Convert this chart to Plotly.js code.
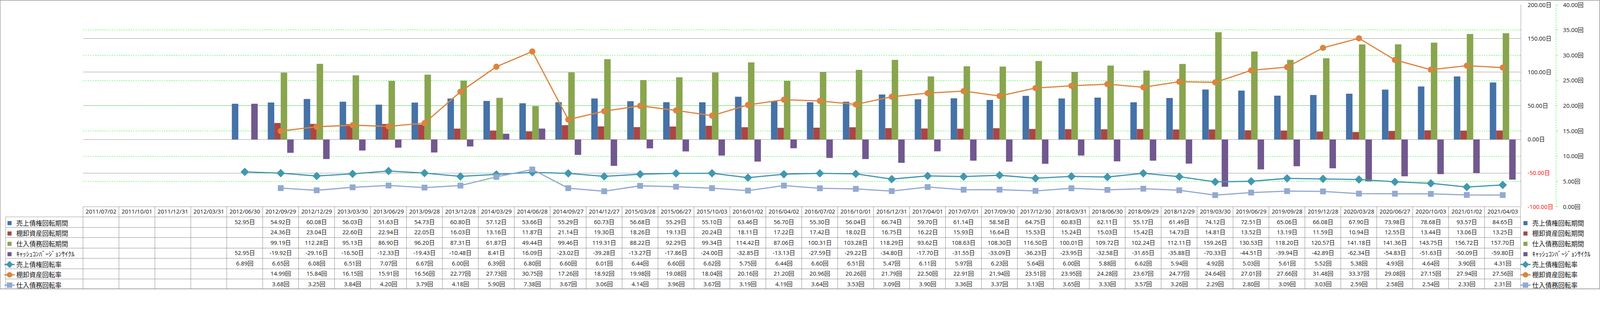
<!DOCTYPE html>
<html><head><meta charset="utf-8">
<script src="https://cdn.plot.ly/plotly-3.0.1.min.js"></script>
<style>html,body{margin:0;padding:0;background:#fff;overflow:hidden;}#chart{width:4701px;height:858px;transform-origin:0 0;}</style>
</head><body><div id="chart"></div>
<script>
const dates = ['2011/07/02','2011/10/01','2011/12/31','2012/03/31','2012/06/30','2012/09/29','2012/12/29','2013/03/30','2013/06/29','2013/09/28','2013/12/28','2014/03/29','2014/06/28','2014/09/27','2014/12/27','2015/03/28','2015/06/27','2015/10/03','2016/01/02','2016/04/02','2016/07/02','2016/10/01','2016/12/31','2017/04/01','2017/07/01','2017/09/30','2017/12/30','2018/03/31','2018/06/30','2018/09/29','2018/12/29','2019/03/30','2019/06/29','2019/09/28','2019/12/28','2020/03/28','2020/06/27','2020/10/03','2021/01/02','2021/04/03'];

const receivableDays = [null,null,null,null,52.95,54.92,60.08,56.03,51.63,54.73,60.80,57.12,53.66,55.29,60.73,56.68,55.29,55.10,63.46,56.70,55.30,56.04,66.74,59.70,61.14,58.58,64.75,60.83,62.11,55.17,61.49,74.12,72.51,65.06,66.08,67.90,73.98,78.68,93.57,84.65];
const inventoryDays = [null,null,null,null,null,24.36,23.04,22.60,22.94,22.05,16.03,13.16,11.87,21.14,19.30,18.26,19.13,20.24,18.11,17.22,17.42,18.02,16.75,16.22,15.93,16.64,15.53,15.24,15.03,15.42,14.73,14.81,13.52,13.19,11.59,10.94,12.55,13.44,13.06,13.25];
const payableDays = [null,null,null,null,null,99.19,112.28,95.13,86.90,96.20,87.31,61.87,49.44,99.46,119.31,88.22,92.29,99.34,114.42,87.06,100.31,103.28,118.29,93.62,108.63,108.30,116.50,100.01,109.72,102.24,112.11,159.26,130.53,118.20,120.57,141.18,141.36,143.75,156.72,157.70];
const cashCycle = [null,null,null,null,52.95,-19.92,-29.16,-16.50,-12.33,-19.43,-10.48,8.41,16.09,-23.02,-39.28,-13.27,-17.86,-24.00,-32.85,-13.13,-27.59,-29.22,-34.80,-17.70,-31.55,-33.09,-36.23,-23.95,-32.58,-31.65,-35.88,-70.33,-44.51,-39.94,-42.89,-62.34,-54.83,-51.63,-50.09,-59.80];
const receivableTurn = [null,null,null,null,6.89,6.65,6.08,6.51,7.07,6.67,6.00,6.39,6.80,6.60,6.01,6.44,6.60,6.62,5.75,6.44,6.60,6.51,5.47,6.11,5.97,6.23,5.64,6.00,5.88,6.62,5.94,4.92,5.03,5.61,5.52,5.38,4.93,4.64,3.90,4.31];
const inventoryTurn = [null,null,null,null,null,14.99,15.84,16.15,15.91,16.56,22.77,27.73,30.75,17.26,18.92,19.98,19.08,18.04,20.16,21.20,20.96,20.26,21.79,22.50,22.91,21.94,23.51,23.95,24.28,23.67,24.77,24.64,27.01,27.66,31.48,33.37,29.08,27.15,27.94,27.56];
const payableTurn = [null,null,null,null,null,3.68,3.25,3.84,4.20,3.79,4.18,5.90,7.38,3.67,3.06,4.14,3.96,3.67,3.19,4.19,3.64,3.53,3.09,3.90,3.36,3.37,3.13,3.65,3.33,3.57,3.26,2.29,2.80,3.09,3.03,2.59,2.58,2.54,2.33,2.31];

const seriesNames = ['売上債権回転期間','棚卸資産回転期間','仕入債務回転期間','ｷｬｯｼｭｺﾝﾊﾞｰｼﾞｮﾝｻｲｸﾙ','売上債権回転率','棚卸資産回転率','仕入債務回転率'];
const leftTicks = [-100,-50,0,50,100,150,200];
const rightTicks = [0,5,10,15,20,25,30,35,40];

const W = 4701, H = 858;
const px = x => x / W;
const py = y => 1 - y / H;

const colors = ['#4572A7','#AA4643','#89A54E','#71588F','#4198AF','#DB843D','#93A9CF'];
const dayData = [receivableDays, inventoryDays, payableDays, cashCycle];
const rateData = [receivableTurn, inventoryTurn, payableTurn];
const symbols = ['diamond','circle','square'];
const msize = [19,18,17];

const traces = [];
// real traces (right legend) and legend-only copies (left legend inside the table's first column)
function addSet(legendName, real) {
  dayData.forEach((d, i) => {
    traces.push({
      type: 'bar', name: seriesNames[i],
      x: real ? dates : [dates[0]], y: real ? d : [-1000],
      xaxis: real ? 'x' : 'x2', yaxis: real ? 'y' : 'y3',
      marker: {color: colors[i]},
      legend: legendName, legendgroup: legendName + i, hoverinfo: 'skip'
    });
  });
  rateData.forEach((d, i) => {
    traces.push({
      type: 'scatter', mode: 'lines+markers', name: seriesNames[4 + i],
      x: real ? dates : [dates[0]], y: real ? d : [-1000],
      xaxis: real ? 'x' : 'x2', yaxis: real ? 'y2' : 'y3',
      line: {color: colors[4 + i], width: 3.5},
      marker: {symbol: symbols[i], size: msize[i], color: colors[4 + i]},
      legend: legendName, legendgroup: legendName + (4 + i), hoverinfo: 'skip'
    });
  });
}
addSet('legend', true);
addSet('legend2', false);

const fmt = (v, u) => (v === null || v === undefined) ? '' : v.toFixed(2) + u;
const tableCols = [seriesNames.map(() => '')];
dates.forEach((d, j) => {
  tableCols.push([
    fmt(receivableDays[j], '日'), fmt(inventoryDays[j], '日'), fmt(payableDays[j], '日'), fmt(cashCycle[j], '日'),
    fmt(receivableTurn[j], '回'), fmt(inventoryTurn[j], '回'), fmt(payableTurn[j], '回')
  ]);
});
const gridGray = '#8c8c8c';
traces.push({
  type: 'table',
  domain: {x: [px(17), px(4468)], y: [py(857), py(613.3)]},
  columnwidth: [227].concat(dates.map(() => 105.6)),
  header: {
    values: [''].concat(dates),
    height: 30,
    align: 'center',
    line: {color: ['rgba(0,0,0,0)'].concat(dates.map(() => gridGray)), width: 1},
    fill: {color: 'rgba(0,0,0,0)'},
    font: {family: 'Open Sans, Noto Sans CJK JP', size: 17, color: '#111'}
  },
  cells: {
    values: tableCols,
    height: 30.5,
    align: 'center',
    line: {color: gridGray, width: 1},
    fill: {color: 'rgba(0,0,0,0)'},
    font: {family: 'Open Sans, Noto Sans CJK JP', size: 17, color: '#111'}
  }
});

const legendFont = {family: 'Noto Sans CJK JP', size: 19, color: '#111'};
const layout = {
  width: W, height: H,
  margin: {l: 0, r: 0, t: 0, b: 0},
  paper_bgcolor: '#fff', plot_bgcolor: 'rgba(0,0,0,0)',
  barmode: 'group', bargap: 0.28, bargroupgap: 0,
  showlegend: true,
  font: {family: 'Open Sans, Noto Sans CJK JP', size: 17, color: '#111'},
  xaxis: {
    type: 'category', categoryorder: 'array', categoryarray: dates,
    domain: [px(244), px(4468)], range: [-0.5, dates.length - 0.5],
    showticklabels: false, showgrid: false, zeroline: false, showline: false, ticks: '', fixedrange: true
  },
  yaxis: {
    domain: [py(613.3), py(14.3)], range: [-100, 200], side: 'right',
    tickvals: leftTicks,
    ticktext: leftTicks.map(v => v < 0 ? '<span style="color:#ff0000">' + v.toFixed(2) + '日</span>' : v.toFixed(2) + '日'),
    showgrid: true, gridcolor: '#888888', gridwidth: 1,
    zeroline: true, zerolinecolor: '#888888', zerolinewidth: 1,
    showline: true, linecolor: '#888888', linewidth: 1,
    ticks: '', ticklabelstandoff: 16, automargin: false,
    tickfont: {family: 'Open Sans, Noto Sans CJK JP', size: 17, color: '#111'}
  },
  yaxis2: {
    overlaying: 'y', side: 'right', anchor: 'free', position: px(4572),
    range: [0, 40], tickvals: rightTicks, ticktext: rightTicks.map(v => v.toFixed(2) + '回'),
    showgrid: true, gridcolor: '#00ff00', gridwidth: 1, griddash: '4px,3px',
    zeroline: false, showline: false,
    ticks: 'outside', ticklen: 4, tickcolor: '#00ff00', tickwidth: 1,
    ticklabelstandoff: 12, automargin: false,
    tickfont: {family: 'Open Sans, Noto Sans CJK JP', size: 17, color: '#111'}
  },
  xaxis2: {type: 'category', domain: [px(244), px(4468)], visible: false, fixedrange: true},
  yaxis3: {domain: [py(613.3), py(14.3)], anchor: 'x2', range: [0, 1], visible: false, fixedrange: true},
  legend: {
    x: px(4462), y: py(643), xanchor: 'left', yanchor: 'top',
    traceorder: 'grouped', tracegroupgap: 2.7, bgcolor: 'rgba(0,0,0,0)', borderwidth: 0,
    font: legendFont, itemclick: false, itemdoubleclick: false
  },
  legend2: {
    x: px(8), y: py(643), xanchor: 'left', yanchor: 'top',
    traceorder: 'grouped', tracegroupgap: 2.7, bgcolor: 'rgba(0,0,0,0)', borderwidth: 0,
    font: legendFont, itemclick: false, itemdoubleclick: false
  },
  shapes: [
    {type: 'rect', xref: 'paper', yref: 'paper', x0: px(0.5), x1: px(4700), y0: py(857), y1: py(1), line: {color: '#888888', width: 1.5}},
    {type: 'line', xref: 'paper', yref: 'paper', x0: px(4572), x1: px(4572), y0: py(613.3), y1: py(14.3), line: {color: '#00ff00', width: 1, dash: '4px,3px'}}
  ]
};

const div = document.getElementById('chart');
function fit() {
  const s = Math.min(window.innerWidth / W, window.innerHeight / H);
  div.style.transform = (s > 0 && s < 0.999) ? 'scale(' + s + ')' : 'none';
}
fit();
window.addEventListener('resize', fit);
Plotly.newPlot(div, traces, layout, {staticPlot: true, displayModeBar: false});
</script>
</body></html>
